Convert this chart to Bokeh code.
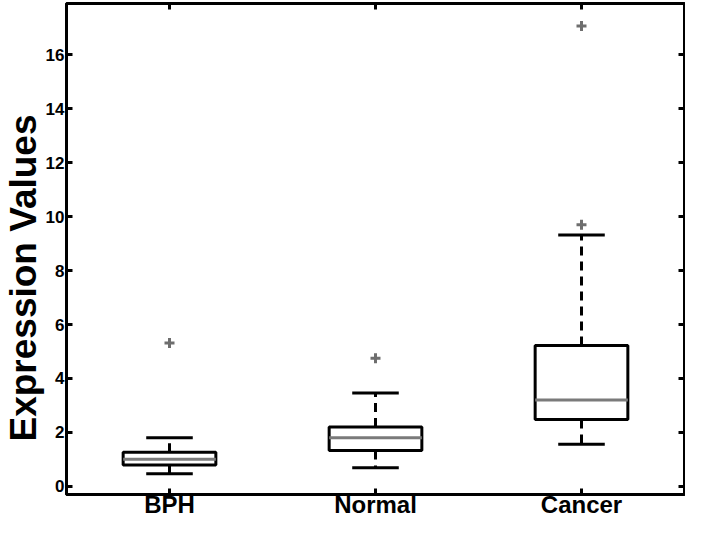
from bokeh.plotting import figure
from bokeh.models import (ColumnDataSource, FactorRange, Range1d, FixedTicker,
                          CategoricalAxis, LinearAxis, CustomLabelingPolicy, Title)
from bokeh.transform import dodge
from bokeh.embed import file_html
from bokeh.resources import INLINE

# ---- data ----
cats = ["BPH", "Normal", "Cancer"]
lower_whisker = [0.47, 0.69, 1.56]
q1 = [0.79, 1.33, 2.48]
median = [1.01, 1.80, 3.20]
q3 = [1.27, 2.20, 5.22]
upper_whisker = [1.80, 3.46, 9.32]
outlier_cats = ["BPH", "Normal", "Cancer", "Cancer"]
outlier_vals = [5.32, 4.75, 9.70, 17.07]
y_ticks = [0, 2, 4, 6, 8, 10, 12, 14, 16]
y_title = "Expression Values"

FONT = "Liberation Sans"
BOX_W = 0.45
CAP_HALF = 0.113

src = ColumnDataSource(dict(cat=cats, lo=lower_whisker, q1=q1, med=median, q3=q3, hi=upper_whisker))
out_src = ColumnDataSource(dict(cat=outlier_cats, val=outlier_vals))

p = figure(x_range=FactorRange(factors=cats, range_padding=0),
           y_range=Range1d(-0.3, 17.9),
           width=685, height=520, output_backend="svg", toolbar_location=None,
           min_border_left=66, min_border_right=1, min_border_top=3, min_border_bottom=20)

p.xgrid.grid_line_color = None
p.ygrid.grid_line_color = None
p.outline_line_color = "black"
p.outline_line_width = 3
p.background_fill_color = "white"
p.border_fill_color = "white"

# whiskers (dashed)
p.segment(x0="cat", y0="q3", x1="cat", y1="hi", source=src, line_color="black", line_width=3, line_dash="9 6")
p.segment(x0="cat", y0="q1", x1="cat", y1="lo", source=src, line_color="black", line_width=3, line_dash="9 6")
# caps
p.segment(x0=dodge("cat", -CAP_HALF, range=p.x_range), y0="hi",
          x1=dodge("cat", CAP_HALF, range=p.x_range), y1="hi",
          source=src, line_color="black", line_width=3)
p.segment(x0=dodge("cat", -CAP_HALF, range=p.x_range), y0="lo",
          x1=dodge("cat", CAP_HALF, range=p.x_range), y1="lo",
          source=src, line_color="black", line_width=3)
# boxes
p.vbar(x="cat", bottom="q1", top="q3", width=BOX_W, source=src,
       fill_color="white", line_color="black", line_width=3)
# medians
p.segment(x0=dodge("cat", -BOX_W / 2, range=p.x_range), y0="med",
          x1=dodge("cat", BOX_W / 2, range=p.x_range), y1="med",
          source=src, line_color="#7a7a7a", line_width=3)
# outliers
p.scatter(x="cat", y="val", source=out_src, marker="cross", size=10,
          line_color="#6e6e6e", line_width=3)

no_labels = CustomLabelingPolicy(code="""
for (const i of indices) { indices.set(i, false) }
return indices
""")

def style_axis(ax, labels=True):
    ax.axis_line_color = "black"
    ax.axis_line_width = 3
    ax.major_tick_line_color = "black"
    ax.major_tick_line_width = 3
    ax.major_tick_in = 6
    ax.major_tick_out = 0
    ax.minor_tick_line_color = None
    if not labels:
        ax.major_label_text_font_size = "0px"
        ax.major_label_standoff = 0
        ax.major_label_policy = no_labels

# bottom axis
xa = p.xaxis[0]
style_axis(xa)
xa.major_label_text_font = FONT
xa.major_label_text_font_style = "bold"
xa.major_label_text_font_size = "24px"
xa.major_label_text_color = "black"
xa.major_label_standoff = -4

# left axis
ya = p.yaxis[0]
ya.ticker = FixedTicker(ticks=y_ticks)
style_axis(ya)
ya.major_label_text_font = FONT
ya.major_label_text_font_style = "bold"
ya.major_label_text_font_size = "17px"
ya.major_label_text_color = "black"
ya.major_label_standoff = 2

# y title as a left-side title, placed like the reference
p.add_layout(Title(text=y_title, text_font=FONT, text_font_style="bold",
                   text_font_size="37px", text_color="black",
                   align="left", offset=53, vertical_align="top", standoff=-6), "left")

# mirrored axes (top and right)
top_ax = CategoricalAxis()
style_axis(top_ax, labels=False)
p.add_layout(top_ax, "above")
right_ax = LinearAxis(ticker=FixedTicker(ticks=y_ticks))
style_axis(right_ax, labels=False)
p.add_layout(right_ax, "right")

open("out.html", "w").write(file_html(p, INLINE))
